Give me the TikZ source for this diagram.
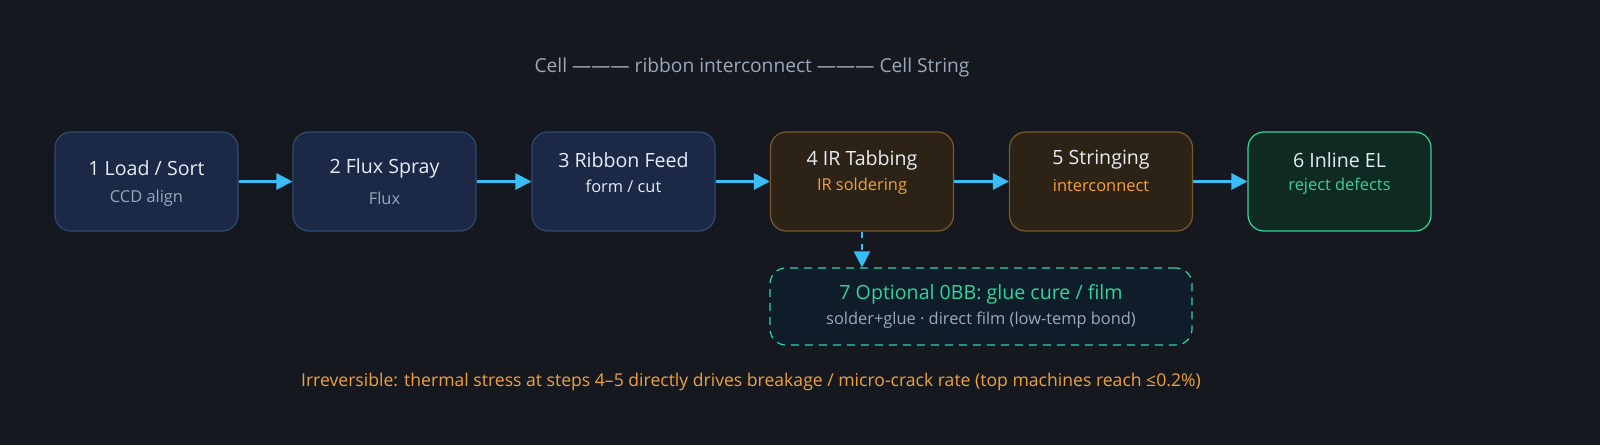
\documentclass[tikz,border=0pt]{standalone}
\usepackage{fontspec}
\setmainfont{Open Sans}
\usetikzlibrary{arrows.meta}
\definecolor{bg}{HTML}{15191F}
\definecolor{bfill}{HTML}{1B2946}
\definecolor{bline}{HTML}{2F4A72}
\definecolor{ofill}{HTML}{2C2316}
\definecolor{oline}{HTML}{7A5A2A}
\definecolor{gfill}{HTML}{0F2A22}
\definecolor{gline}{HTML}{34D399}
\definecolor{dfill}{HTML}{0F1D2A}
\definecolor{dline}{HTML}{2DD4A4}
\definecolor{arr}{HTML}{38BDF8}
\definecolor{otext}{HTML}{F0A040}
\definecolor{gtext}{HTML}{34D399}
\definecolor{sub}{HTML}{9AA8BB}
\definecolor{ttl}{HTML}{E6ECF3}
\begin{document}
\begin{tikzpicture}[x=0.5pt,y=-0.5pt,
  stepbox/.style={rounded corners=8pt,line width=0.6pt,minimum width=91.5pt,minimum height=49.5pt,inner sep=0pt,align=center},
  blue/.style={stepbox,fill=bfill,draw=bline},
  brown/.style={stepbox,fill=ofill,draw=oline},
  green/.style={stepbox,fill=gfill,draw=gline},
  flow/.style={-{Triangle[length=8pt,width=8pt]},arr,line width=1.5pt},
  t/.style={font=\fontsize{9.8}{12}\selectfont,text=ttl},
  s/.style={font=\fontsize{8.2}{10}\selectfont}]
\useasboundingbox (0,0) rectangle (1600,445);
\fill[bg] (0,0) rectangle (1600,445);
\node[font=\fontsize{9.6}{12}\selectfont,text=sub] (title) at (752,68) {Cell ——— ribbon interconnect ——— Cell String};
\node[blue] (b1) at (146.5,181.5) {};
\node[blue] (b2) at (384.5,181.5) {};
\node[blue] (b3) at (623.5,181.5) {};
\node[brown] (b4) at (862,181.5) {};
\node[brown] (b5) at (1101,181.5) {};
\node[green] (b6) at (1339.5,181.5) {};
\node[t] at (146.5,168) {1 Load / Sort};
\node[s,text=sub] at (146.5,198) {CCD align};
\node[t] at (384.5,168) {2 Flux Spray};
\node[s,text=sub] at (384.5,198) {Flux};
\node[t] at (623.5,160) {3 Ribbon Feed};
\node[s,text=ttl] at (623.5,186) {form / cut};
\node[t] at (862,160) {4 IR Tabbing};
\node[s,text=otext] at (862,186) {IR soldering};
\node[t] at (1101,160) {5 Stringing};
\node[s,text=otext] at (1101,186) {interconnect};
\node[t] at (1339.5,160) {6 Inline EL};
\node[s,text=gtext] at (1339.5,186) {reject defects};
\node[stepbox,minimum width=211pt,minimum height=38.5pt,fill=dfill,draw=dline,dashed,dash pattern=on 4pt off 3pt] (b7) at (981,306.5) {};
\node[t,text=gtext] at (981,294) {7 Optional 0BB: glue cure / film};
\node[s,text=sub] at (981,320) {solder+glue · direct film (low-temp bond)};
\draw[flow] (b1) -- (b2);
\draw[flow] (b2) -- (b3);
\draw[flow] (b3) -- (b4);
\draw[flow] (b4) -- (b5);
\draw[flow] (b5) -- (b6);
\draw[flow,line width=1pt,dashed,dash pattern=on 3pt off 3pt] (b4.south) -- (b4.south |- b7.north);
\node[font=\fontsize{8.8}{11}\selectfont,text=otext] (note) at (751,382) {Irreversible: thermal stress at steps 4–5 directly drives breakage / micro-crack rate (top machines reach ≤0.2\%)};
\end{tikzpicture}
\end{document}
